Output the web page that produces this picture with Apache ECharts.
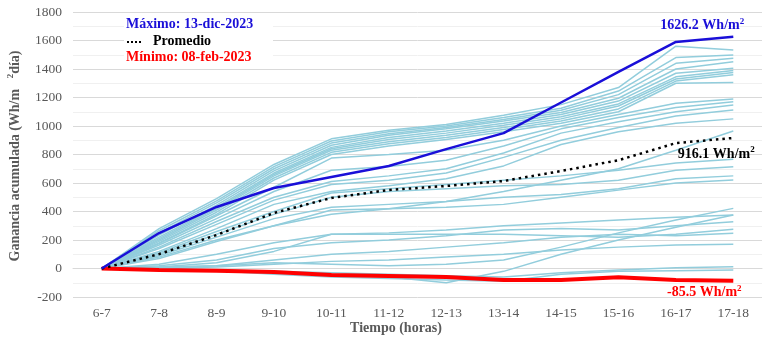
<!DOCTYPE html>
<html>
<head>
<meta charset="utf-8">
<script src="https://cdn.jsdelivr.net/npm/echarts@6/dist/echarts.min.js"></script>
<style>
  html, body { margin: 0; padding: 0; background: #fff; }
  #chart { width: 768px; height: 341px; }
</style>
</head>
<body>
<div id="chart"></div>
<script>
const hours = ['6-7', '7-8', '8-9', '9-10', '10-11', '11-12', '12-13', '13-14', '14-15', '15-16', '16-17', '17-18']

// valores diarios (Wh/m2 acumulados)
const dailyLines = [
  [0, 280, 490, 730, 910, 970, 1010, 1075, 1150, 1270, 1560, 1533],
  [0, 265, 475, 715, 895, 960, 1000, 1060, 1125, 1245, 1480, 1498],
  [0, 250, 460, 700, 880, 945, 990, 1045, 1110, 1220, 1440, 1475],
  [0, 235, 445, 685, 865, 935, 980, 1035, 1095, 1195, 1400, 1451],
  [0, 220, 430, 670, 850, 920, 965, 1020, 1080, 1175, 1370, 1405],
  [0, 210, 420, 660, 840, 905, 950, 1005, 1065, 1155, 1345, 1390],
  [0, 200, 410, 650, 830, 890, 935, 990, 1050, 1140, 1330, 1375],
  [0, 190, 395, 635, 815, 875, 920, 975, 1035, 1120, 1315, 1360],
  [0, 180, 380, 620, 800, 860, 905, 960, 1020, 1100, 1300, 1305],
  [0, 175, 370, 570, 775, 800, 830, 900, 1000, 1080, 1160, 1190],
  [0, 165, 350, 540, 690, 715, 760, 860, 980, 1060, 1130, 1170],
  [0, 150, 330, 500, 610, 650, 700, 810, 950, 1030, 1100, 1147],
  [0, 140, 310, 480, 590, 620, 670, 780, 900, 990, 1070, 1112],
  [0, 120, 280, 450, 540, 580, 630, 720, 870, 960, 1020, 1050],
  [0, 80, 200, 300, 380, 420, 470, 540, 620, 700, 830, 965],
  [0, 110, 260, 400, 530, 560, 590, 620, 650, 690, 740, 766],
  [0, 100, 240, 380, 500, 540, 560, 580, 590, 620, 690, 714],
  [0, 90, 220, 350, 430, 450, 470, 500, 520, 560, 630, 650],
  [0, 70, 190, 300, 410, 420, 430, 450, 500, 550, 600, 621],
  [0, 10, 20, 40, 30, 20, 30, 60, 150, 250, 340, 422],
  [0, 30, 100, 180, 240, 250, 270, 300, 320, 340, 360, 375],
  [0, 20, 60, 140, 180, 200, 230, 270, 280, 270, 300, 328],
  [0, 10, 40, 120, 240, 240, 240, 240, 230, 220, 240, 275],
  [0, 5, 20, 60, 100, 120, 150, 180, 220, 240, 230, 247],
  [0, 0, 10, 30, 50, 60, 80, 100, 130, 150, 165, 170],
  [0, 0, -10, -30, -50, -60, -100, -20, 100, 200, 290, 375],
  [0, -5, -10, -20, -30, -40, -50, -60, -30, -10, 5, 13],
  [0, -5, -15, -40, -60, -70, -80, -90, -40, -20, -15, -11]
]

const maxDay = [0, 249, 432, 565, 642, 719, 838, 950, 1165, 1380, 1590, 1626.2]
const average = [0, 101, 235, 390, 495, 551, 579, 614, 684, 760, 880, 916.1]
const minDay = [0, -10, -15, -25, -45, -52, -60, -80, -80, -62, -80, -85.5]

const fontSerif = '"Liberation Serif", "Times New Roman", serif'

const chart = echarts.init(document.getElementById('chart'))

const endLabel = (text, color, offset) => ({
  show: true,
  position: 'top',
  offset: offset,
  formatter: '{a|' + text + '}{s|2}',
  rich: {
    a: { fontFamily: fontSerif, fontWeight: 'bold', fontSize: 14, color: color, lineHeight: 18 },
    s: { fontFamily: fontSerif, fontWeight: 'bold', fontSize: 9, color: color, verticalAlign: 'top', lineHeight: 18 }
  }
})

const withLastLabel = (arr, label) => arr.map((v, i) => i === arr.length - 1 ? { value: v, label: label } : v)

const series = dailyLines.map(d => ({
  type: 'line',
  data: d,
  symbol: 'none',
  silent: true,
  lineStyle: { color: '#92cddc', width: 1.5 }
}))

const mainLine = (data, color, width, type) => ({
  type: 'line',
  data: data,
  symbol: 'circle',
  symbolSize: 0,
  showSymbol: true,
  itemStyle: { color: color },
  lineStyle: { color: color, width: width, type: type || 'solid' }
})

series.push(mainLine(withLastLabel(minDay, endLabel('-85.5 Wh/m', '#ff0000', [-29, 26])), '#ff0000', 4))
series.push(mainLine(withLastLabel(average, endLabel('916.1 Wh/m', '#000000', [-17, 30])), '#000000', 2.5, [2.5, 4]))
series.push(mainLine(withLastLabel(maxDay, endLabel('1626.2 Wh/m', '#1a0fd8', [-31, 3])), '#1a0fd8', 2.5))

const option = {
  animation: false,
  textStyle: { fontFamily: fontSerif },
  grid: { left: 73, right: 6, top: 12, bottom: 44 },
  xAxis: {
    type: 'category',
    data: hours,
    boundaryGap: true,
    axisLine: { show: true, lineStyle: { color: '#d9d9d9', width: 1 } },
    axisTick: { show: false },
    axisLabel: { color: '#595959', fontSize: 13.5, fontFamily: fontSerif, margin: 9 }
  },
  yAxis: {
    type: 'value',
    min: -200,
    max: 1800,
    interval: 200,
    axisLine: { show: false },
    axisTick: { show: false },
    axisLabel: { color: '#595959', fontSize: 13.5, fontFamily: fontSerif, margin: 11, formatter: v => String(v) },
    splitLine: { lineStyle: { color: '#d9d9d9', width: 1 } },
    minorTick: { show: false, splitNumber: 2 },
    minorSplitLine: { show: true, lineStyle: { color: '#f0f0f0', width: 1 } }
  },
  graphic: [
    {
      type: 'rect', shape: { x: 124, y: 17, width: 149, height: 47 },
      style: { fill: '#fff' }, z: 10
    },
    {
      type: 'text', left: 126, top: 17, z: 11,
      style: { text: 'Máximo: 13-dic-2023', fill: '#1a0fd8', font: 'bold 14px ' + fontSerif }
    },
    {
      type: 'line', shape: { x1: 127, y1: 42, x2: 142, y2: 42 }, z: 11,
      style: { stroke: '#000', lineWidth: 2, lineDash: [2, 2] }
    },
    {
      type: 'text', left: 153, top: 34, z: 11,
      style: { text: 'Promedio', fill: '#000', font: 'bold 14px ' + fontSerif }
    },
    {
      type: 'text', left: 126, top: 50, z: 11,
      style: { text: 'Mínimo: 08-feb-2023', fill: '#ff0000', font: 'bold 14px ' + fontSerif }
    },
    {
      type: 'text', x: 396, y: 328,
      style: { text: 'Tiempo (horas)', fill: '#595959', font: 'bold 14px ' + fontSerif, align: 'center', verticalAlign: 'middle' }
    },
    {
      type: 'text', x: 15, y: 156, rotation: Math.PI / 2,
      style: {
        text: '{a|Ganancia acumulada (Wh/m   }{s|2}{a|día)}',
        align: 'center', verticalAlign: 'middle',
        rich: {
          a: { fontFamily: fontSerif, fontWeight: 'bold', fontSize: 14, fill: '#595959', lineHeight: 18 },
          s: { fontFamily: fontSerif, fontWeight: 'bold', fontSize: 9, fill: '#595959', verticalAlign: 'top', lineHeight: 18 }
        }
      }
    }
  ],
  series: series
}

chart.setOption(option)
</script>
</body>
</html>
